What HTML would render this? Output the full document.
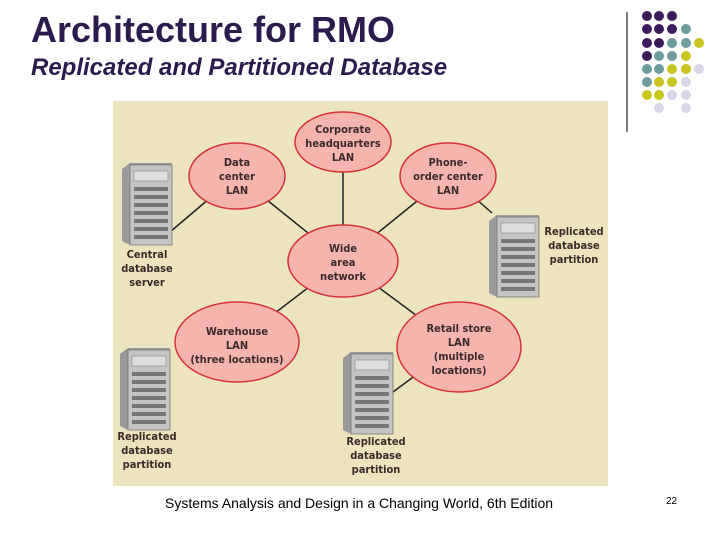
<!DOCTYPE html>
<html><head><meta charset="utf-8"><style>
body{margin:0;width:720px;height:540px;background:#fff;position:relative;overflow:hidden;font-family:"Liberation Sans",sans-serif}
.t1{position:absolute;left:31px;top:9px;font-size:36px;font-weight:bold;color:#2a1a4e}
.t2{position:absolute;left:31px;top:54px;font-size:24px;font-weight:bold;font-style:italic;color:#2a1a4e}
.f{position:absolute;left:165px;top:495px;font-size:14px;color:#000}
.n{position:absolute;left:666px;top:496px;font-size:10px}
</style></head><body>
<div class="t1">Architecture for RMO</div>
<div class="t2">Replicated and Partitioned Database</div>
<svg width="720" height="540" style="position:absolute;left:0;top:0">
<defs>
<g id="srv">
<polygon points="0,6 8,0 50,0 50,80 8,82 0,78" fill="#9a9a9a"/>
<rect x="8" y="2" width="42" height="80" fill="#c4c4c4" stroke="#777" stroke-width="0.8"/>
<rect x="12" y="8" width="34" height="10" fill="#ddd" stroke="#888" stroke-width="0.6"/>
<g fill="#777"><rect x="12" y="24" width="34" height="4"/><rect x="12" y="32" width="34" height="4"/><rect x="12" y="40" width="34" height="4"/><rect x="12" y="48" width="34" height="4"/><rect x="12" y="56" width="34" height="4"/><rect x="12" y="64" width="34" height="4"/><rect x="12" y="72" width="34" height="4"/></g>
</g>
</defs>
<line x1="627" y1="12" x2="627" y2="132" stroke="#000" stroke-width="1"/>
<g>
<circle cx="647" cy="16" r="5" fill="#3d1a5c"/><circle cx="659" cy="16" r="5" fill="#3d1a5c"/><circle cx="672" cy="16" r="5" fill="#3d1a5c"/>
<circle cx="647" cy="29" r="5" fill="#3d1a5c"/><circle cx="659" cy="29" r="5" fill="#3d1a5c"/><circle cx="672" cy="29" r="5" fill="#3d1a5c"/><circle cx="686" cy="29" r="5" fill="#6e9c9c"/>
<circle cx="647" cy="43" r="5" fill="#3d1a5c"/><circle cx="659" cy="43" r="5" fill="#3d1a5c"/><circle cx="672" cy="43" r="5" fill="#6e9c9c"/><circle cx="686" cy="43" r="5" fill="#6e9c9c"/><circle cx="699" cy="43" r="5" fill="#c8c420"/>
<circle cx="647" cy="56" r="5" fill="#3d1a5c"/><circle cx="659" cy="56" r="5" fill="#6e9c9c"/><circle cx="672" cy="56" r="5" fill="#6e9c9c"/><circle cx="686" cy="56" r="5" fill="#c8c420"/>
<circle cx="647" cy="69" r="5" fill="#6e9c9c"/><circle cx="659" cy="69" r="5" fill="#6e9c9c"/><circle cx="672" cy="69" r="5" fill="#c8c420"/><circle cx="686" cy="69" r="5" fill="#c8c420"/><circle cx="699" cy="69" r="5" fill="#d6d6e6"/>
<circle cx="647" cy="82" r="5" fill="#6e9c9c"/><circle cx="659" cy="82" r="5" fill="#c8c420"/><circle cx="672" cy="82" r="5" fill="#c8c420"/><circle cx="686" cy="82" r="5" fill="#d6d6e6"/>
<circle cx="647" cy="95" r="5" fill="#c8c420"/><circle cx="659" cy="95" r="5" fill="#c8c420"/><circle cx="672" cy="95" r="5" fill="#d6d6e6"/><circle cx="686" cy="95" r="5" fill="#d6d6e6"/>
<circle cx="659" cy="108" r="5" fill="#d6d6e6"/><circle cx="686" cy="108" r="5" fill="#d6d6e6"/>
</g>
<rect x="113" y="101" width="495" height="385" fill="#ebe4bf"/>
<g stroke="#222" stroke-width="1.5">
<line x1="343" y1="142" x2="343" y2="261"/>
<line x1="237" y1="176" x2="343" y2="261"/>
<line x1="448" y1="176" x2="343" y2="261"/>
<line x1="237" y1="342" x2="343" y2="261"/>
<line x1="459" y1="347" x2="343" y2="261"/>
<line x1="170" y1="232" x2="210" y2="198"/>
<line x1="475" y1="198" x2="492" y2="213"/>
<line x1="393" y1="392" x2="420" y2="372"/>
</g>
<g fill="#f6b4ae" stroke="#d8313a" stroke-width="1.5">
<ellipse cx="343" cy="142" rx="48" ry="30"/>
<ellipse cx="237" cy="176" rx="48" ry="33"/>
<ellipse cx="448" cy="176" rx="48" ry="33"/>
<ellipse cx="343" cy="261" rx="55" ry="36"/>
<ellipse cx="237" cy="342" rx="62" ry="40"/>
<ellipse cx="459" cy="347" rx="62" ry="45"/>
</g>
<use href="#srv" x="122" y="163"/>
<use href="#srv" x="489" y="215"/>
<use href="#srv" x="120" y="348"/>
<use href="#srv" x="343" y="352"/>
<g font-family="DejaVu Sans Condensed, Liberation Sans, sans-serif" font-size="11" font-weight="bold" fill="#3a2a2a" text-anchor="middle">
<text x="343" y="133">Corporate</text><text x="343" y="147">headquarters</text><text x="343" y="161">LAN</text>
<text x="237" y="166">Data</text><text x="237" y="180">center</text><text x="237" y="194">LAN</text>
<text x="448" y="166">Phone-</text><text x="448" y="180">order center</text><text x="448" y="194">LAN</text>
<text x="343" y="252">Wide</text><text x="343" y="266">area</text><text x="343" y="280">network</text>
<text x="237" y="335">Warehouse</text><text x="237" y="349">LAN</text><text x="237" y="363">(three locations)</text>
<text x="459" y="332">Retail store</text><text x="459" y="346">LAN</text><text x="459" y="360">(multiple</text><text x="459" y="374">locations)</text>
<text x="147" y="258">Central</text><text x="147" y="272">database</text><text x="147" y="286">server</text>
<text x="574" y="235">Replicated</text><text x="574" y="249">database</text><text x="574" y="263">partition</text>
<text x="147" y="440">Replicated</text><text x="147" y="454">database</text><text x="147" y="468">partition</text>
<text x="376" y="445">Replicated</text><text x="376" y="459">database</text><text x="376" y="473">partition</text>
</g>
</svg>
<div class="f">Systems Analysis and Design in a Changing World, 6th Edition</div>
<div class="n">22</div>
</body></html>
